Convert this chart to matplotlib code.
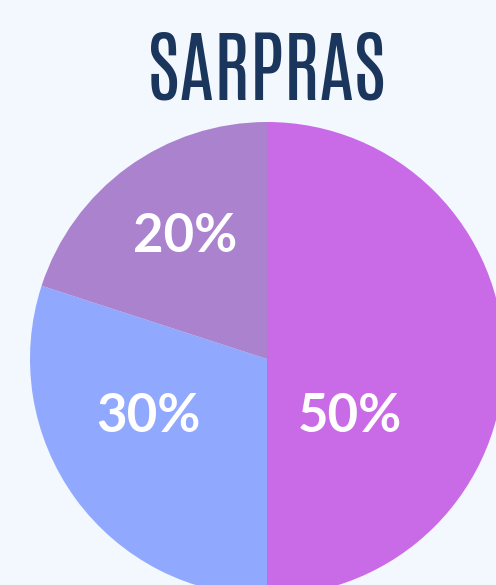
import matplotlib
matplotlib.use("Agg")
import matplotlib.pyplot as plt

# Data
labels = ["50%", "30%", "20%"]
values = [50, 30, 20]
colors = ["#C96BE6", "#91A8FF", "#AA82CE"]

# label positions in pixels (top-left origin)
label_pos = [(350, 417), (148, 417), (185, 237)]

W, H = 496, 585
bg = "#F3F7FE"
fig = plt.figure(figsize=(W / 100, H / 100), dpi=100, facecolor=bg)
ax = fig.add_axes([0, 0, 1, 1])
ax.set_facecolor(bg)

cx, cy, r = 267, H - 359, 237
wedges, _ = ax.pie(values, colors=colors, startangle=90, counterclock=False,
                   center=(cx, cy), radius=r, frame=True,
                   wedgeprops=dict(linewidth=0))
ax.set_xlim(0, W)
ax.set_ylim(0, H)
ax.set_aspect("equal")
ax.axis("off")

for lab, (x, y) in zip(labels, label_pos):
    ax.text(x, H - y, lab, color="white", fontsize=38, fontweight="bold",
            family=["Lato", "DejaVu Sans"],
            ha="center", va="center")

fig.text(267 / W, 1 - 71 / H, "SARPRAS", color="#1B365D", fontsize=56,
         family=["Antonio", "Bebas Neue", "DejaVu Sans"],
         ha="center", va="center")

fig.savefig("out.png", dpi=100, facecolor=fig.get_facecolor())
